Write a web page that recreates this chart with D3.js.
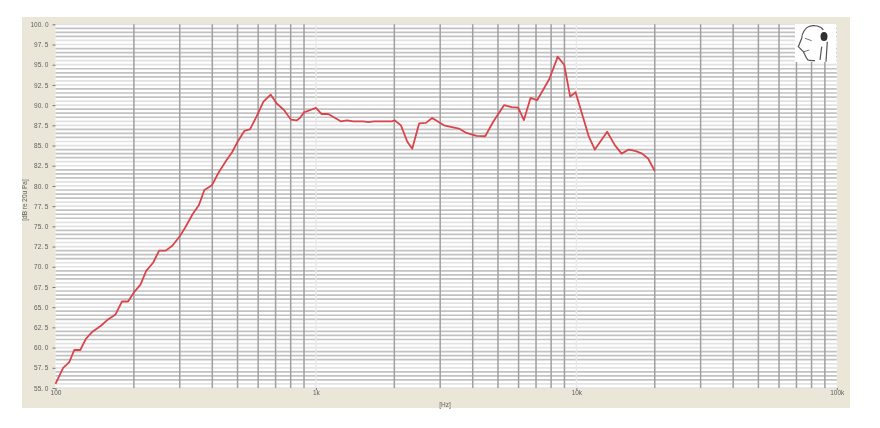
<!DOCTYPE html>
<html><head><meta charset="utf-8">
<script src="https://cdn.jsdelivr.net/npm/d3@7/dist/d3.min.js"></script>
<style>html,body{margin:0;padding:0;background:#fff}svg{display:block}</style></head>
<body><svg id="c" width="880" height="428"></svg>
<script>
const frequencies=[100,107,113,118,124.5,131,139,149.5,158,170,180,190,200.7,212,223,237,250,265,281,300.5,314,336,355,373,399,422,454,477,503,531,558,592,628,670,707,754,802,843,868,899,1000,1052,1115,1244,1318,1391,1519,1588,1669,1953,2010,2120,2241,2343,2492,2644,2795,3100,3540,3755,4140,4466,4794,5284,5641,5978,6289,6671,7071,7864,8395,8470,8979,9467,9929,11170,11776,13130,14050,14910,15900,16920,17890,18860,20000];
const levels=[55.5,57.5,58.2,59.7,59.7,61.1,62.0,62.7,63.4,64.1,65.7,65.7,66.9,67.8,69.5,70.5,72,72,72.6,73.8,74.8,76.5,77.6,79.5,80.1,81.6,83.2,84.2,85.6,86.8,87.0,88.6,90.4,91.3,90.2,89.4,88.2,88.1,88.4,89.1,89.65,88.9,88.9,88,88.1,88,88,87.9,88,88,88.1,87.5,85.5,84.6,87.75,87.8,88.4,87.5,87.1,86.6,86.2,86.15,87.95,90,89.75,89.7,88.15,90.9,90.6,93.2,95.6,96,95,91.05,91.6,86.1,84.5,86.7,85.05,84,84.5,84.3,84,83.4,81.85];
const yTicks=[55,57.5,60,62.5,65,67.5,70,72.5,75,77.5,80,82.5,85,87.5,90,92.5,95,97.5,100];
const yTickLabels=["55. 0","57. 5","60. 0","62. 5","65. 0","67. 5","70. 0","72. 5","75. 0","77. 5","80. 0","82. 5","85. 0","87. 5","90. 0","92. 5","95. 0","97. 5","100. 0"];
const xTicks=[100,1000,10000,100000];
const xTickLabels=["100","1k","10k","100k"];
const minorFreqs=[200,300,400,500,600,700,800,900,2000,3000,4000,5000,6000,7000,8000,9000,20000,30000,40000,50000,60000,70000,80000,90000];
const faintFreqs=[1000,10000];
const gridLevels=d3.range(0,91).map(i=>55+i/2);
const paleSteps=[0,0.5];

const svg=d3.select("#c");
const defs=svg.append("defs");
defs.append("filter").attr("id","b").attr("x","-5%").attr("y","-5%").attr("width","110%").attr("height","110%").append("feGaussianBlur").attr("stdDeviation",0.6);
defs.append("filter").attr("id","t").attr("x","-20%").attr("y","-20%").attr("width","140%").attr("height","140%").append("feGaussianBlur").attr("stdDeviation",0.4);
const x=d3.scaleLog().domain([100,100000]).range([55.5,836.8]);
const y=d3.scaleLinear().domain([55,100]).range([388,24.3]);

svg.append("rect").attr("x",22).attr("y",17).attr("width",828).attr("height",391).attr("fill","#ebe7d8");
svg.append("rect").attr("x",x(100)).attr("y",y(100)).attr("width",x(100000)-x(100)).attr("height",y(55)-y(100)).attr("fill","#fff");

const g=svg.append("g").attr("filter","url(#b)");
g.selectAll(".h").data(gridLevels).join("line")
 .attr("x1",x(100)).attr("x2",x(100000)).attr("y1",d=>y(d)).attr("y2",d=>y(d))
 .attr("stroke",d=>paleSteps.includes(d%2.5)?"#e2e2e2":"#c2c2c2").attr("stroke-width",1.7);
g.selectAll(".v").data(minorFreqs).join("line")
 .attr("x1",d=>x(d)).attr("x2",d=>x(d)).attr("y1",y(100)).attr("y2",y(55))
 .attr("stroke","#a0a0a0").attr("stroke-width",1.5);
g.selectAll(".f").data(faintFreqs).join("line")
 .attr("x1",d=>x(d)).attr("x2",d=>x(d)).attr("y1",y(100)).attr("y2",y(55))
 .attr("stroke","#e8e8e8").attr("stroke-width",1.4);

const ax=svg.append("g").attr("filter","url(#t)");
const yAxis=d3.axisLeft(y).tickValues(yTicks).tickSize(3).tickFormat((d,i)=>yTickLabels[i]);
const ya=ax.append("g").attr("transform",`translate(${x(100)},0)`).call(yAxis);
const xAxis=d3.axisBottom(x).tickValues(xTicks).tickSize(2).tickFormat((d,i)=>xTickLabels[i]);
const xa=ax.append("g").attr("transform",`translate(0,${y(55)})`).call(xAxis);
[ya,xa].forEach(a=>{a.select(".domain").remove();a.selectAll("line").attr("stroke","#777");
 a.selectAll("text").attr("fill","#5f5f5f").attr("font-family","Liberation Sans, sans-serif").attr("font-size",6.5);});
ya.selectAll("text").attr("dx",-1);
xa.selectAll("text").attr("dy",2);
ax.append("text").attr("transform","translate(27,200) rotate(-90)").attr("text-anchor","middle")
 .attr("fill","#5f5f5f").attr("font-family","Liberation Sans, sans-serif").attr("font-size",6.5).text("[dB re 20u Pa]");
ax.append("text").attr("x",445).attr("y",407).attr("text-anchor","middle")
 .attr("fill","#5f5f5f").attr("font-family","Liberation Sans, sans-serif").attr("font-size",6.5).text("[Hz]");

// head logo
const logo=svg.append("g").attr("filter","url(#t)");
logo.append("rect").attr("x",795).attr("y",24).attr("width",41).attr("height",38).attr("fill","#fff");
logo.append("path").attr("d","M815 60.7 C811 60.5 809 60.5 808 60 C806 58 805.5 56 805 55 L803.3 51.7 L798.3 46.7 L801.7 38.3 C802 33 805 28 809 26.5 C814 24.5 821 26 823.3 30 M821.7 46.7 L820 60 M827.3 41.7 L826 61.7")
 .attr("fill","none").attr("stroke","#555").attr("stroke-width",1.2);
logo.append("path").attr("d","M805 38.3 L811.7 40.7 M804 51.7 L809.3 50").attr("fill","none").attr("stroke","#666").attr("stroke-width",0.9);
logo.append("ellipse").attr("cx",824).attr("cy",36.5).attr("rx",3.5).attr("ry",4.5).attr("fill","#333");

const line=d3.line().x(d=>x(d[0])).y(d=>y(d[1]));
svg.append("path").datum(d3.zip(frequencies,levels)).attr("d",line).attr("fill","none")
 .attr("stroke","#da454c").attr("stroke-width",1.8).attr("stroke-linejoin","round").attr("filter","url(#t)");
</script></body></html>
